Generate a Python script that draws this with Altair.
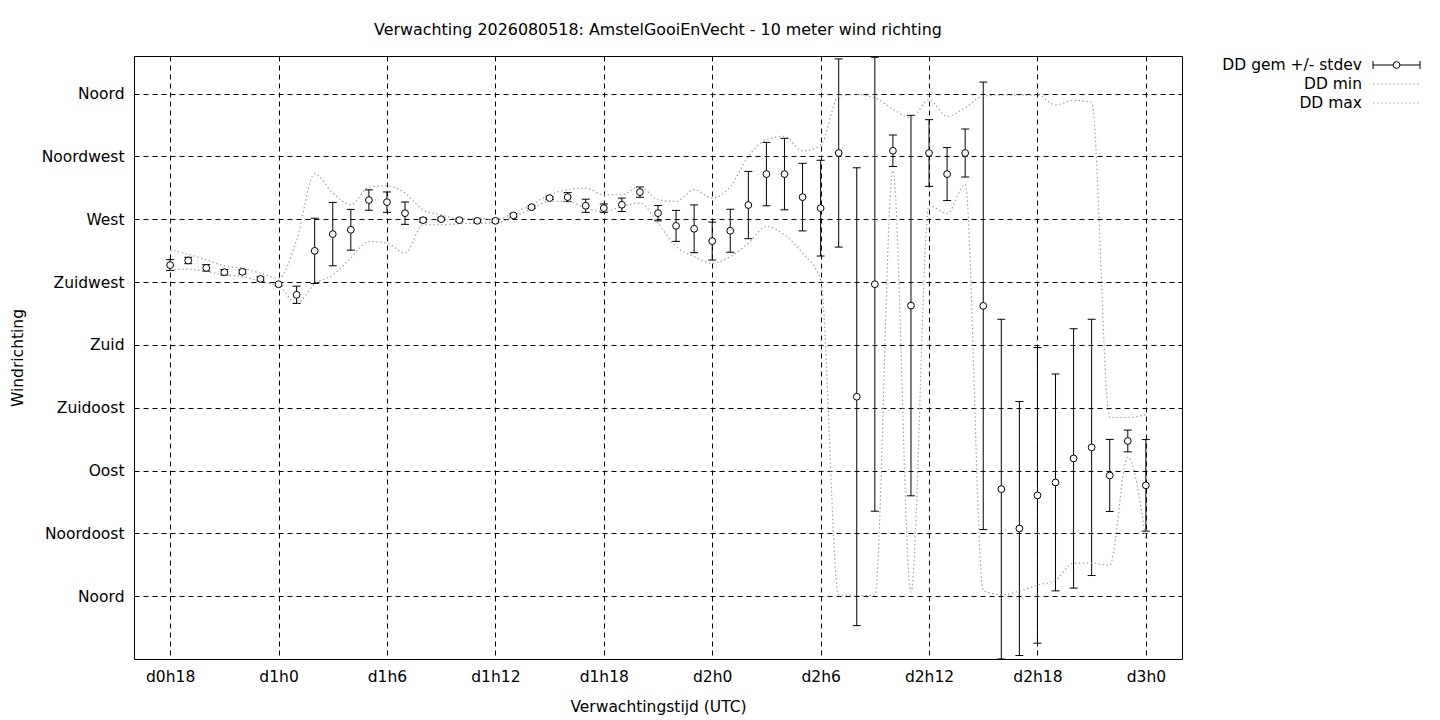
import altair as alt
import pandas as pd

# uren vanaf d0h0, elk uur een waarde
hours = list(range(18, 73))

dd_mean = [237.2, 240.5, 235.2, 232.1, 232.4, 227.3, 223.5, 215.9, 247.4, 259.4,
           262.5, 283.8, 282.3, 274.4, 269.4, 270.1, 269.4, 268.9, 268.9, 272.8,
           278.7, 285.2, 285.9, 279.7, 278.0, 280.4, 289.5, 274.4, 265.3, 263.2,
           254.4, 261.8, 280.2, 302.4, 302.4, 285.9, 278.0, 317.5, 142.9, 223.5,
           319.1, 208.2, 317.5, 302.4, 317.5, 208.0, 76.7, 48.5, 72.2, 81.5,
           98.7, 106.6, 86.5, 111.2, 79.4]

dd_std = [3.9, 2.3, 2.3, 2.0, 1.5, 1.5, 1.2, 6.2, 23.4, 22.7,
          14.6, 7.3, 7.3, 8.0, 1.5, 1.0, 1.0, 1.0, 1.2, 1.2,
          1.0, 1.0, 3.2, 4.7, 3.0, 4.8, 3.7, 5.5, 11.1, 17.1,
          13.6, 15.4, 24.1, 22.7, 25.6, 24.2, 34.3, 67.4, 164.0, 162.6,
          11.3, 136.3, 23.9, 19.0, 17.2, 160.3, 121.7, 91.0, 105.9, 77.7,
          92.9, 91.8, 25.8, 7.8, 32.8]

dd_min = [233.8, 234.3, 232.6, 230.2, 229.0, 225.4, 222.3, 209.9, 223.8, 230.2,
          242.2, 254.1, 252.9, 245.8, 266.1, 266.1, 266.8, 267.3, 267.3, 272.0,
          277.3, 282.8, 282.8, 278.0, 275.6, 279.2, 281.6, 267.3, 250.5, 243.3,
          238.6, 243.3, 252.9, 264.9, 258.9, 245.8, 226.6, 0.7, 0.5, 0.7,
          305.0, 3.0, 280.0, 274.0, 295.0, 4.0, 1.0, 3.6, 7.9, 11.5,
          23.7, 23.7, 22.2, 99.7, 40.0]

dd_max = [248.1, 245.0, 241.0, 236.7, 235.0, 231.4, 227.8, 255.0, 302.6, 288.8,
          280.4, 293.1, 294.0, 288.8, 276.8, 273.2, 270.1, 270.8, 269.6, 274.4,
          280.4, 287.6, 291.2, 292.4, 287.6, 287.6, 293.5, 284.0, 282.8, 291.2,
          285.2, 293.5, 315.1, 327.0, 329.4, 319.0, 323.0, 358.0, 359.3, 357.0,
          349.0, 342.6, 355.7, 343.7, 350.0, 358.3, 359.0, 359.0, 359.0, 352.0,
          355.2, 353.8, 128.0, 128.0, 130.0]

dir_names = ["Noord", "Noordoost", "Oost", "Zuidoost", "Zuid",
             "Zuidwest", "West", "Noordwest", "Noord"]
x_ticks = list(range(18, 73, 6))
legend_labels = ["DD gem +/- stdev", "DD min", "DD max"]

df = pd.DataFrame({"uur": hours, "gem": dd_mean, "std": dd_std,
                   "min": dd_min, "max": dd_max})
df["laag"] = df["gem"] - df["std"]
df["hoog"] = df["gem"] + df["std"]

FONT = "DejaVu Sans"
FS = 15.5
GREY = "#a0a0a0"

x_scale = alt.Scale(domain=[16, 74], nice=False, zero=False)
y_scale = alt.Scale(domain=[-45, 387], nice=False, zero=False)

x_axis = alt.Axis(
    values=x_ticks,
    labelExpr="'d' + floor(datum.value / 24) + 'h' + (datum.value % 24)",
    title="Verwachtingstijd (UTC)",
    grid=True, ticks=False, tickSize=0, domain=False,
    labelPadding=10, titlePadding=15,
)
y_labels = "[" + ",".join("'%s'" % n for n in dir_names) + "]"
y_axis = alt.Axis(
    values=[i * 45 for i in range(len(dir_names))],
    labelExpr=y_labels + "[round(datum.value / 45)]",
    title="Windrichting",
    grid=True, ticks=False, tickSize=0, domain=False,
    labelPadding=10, titlePadding=16,
)


def ychan(field):
    return alt.Y(field, type="quantitative", scale=y_scale, axis=y_axis)


base = alt.Chart(df).encode(x=alt.X("uur:Q", scale=x_scale, axis=x_axis))

min_line = base.mark_line(color=GREY, strokeDash=[1.5, 2.5], strokeWidth=1.2,
                          interpolate="monotone", clip=True).encode(y=ychan("min"))
max_line = base.mark_line(color=GREY, strokeDash=[1.5, 2.5], strokeWidth=1.2,
                          interpolate="monotone", clip=True).encode(y=ychan("max"))

bars = base.mark_rule(color="black", strokeWidth=1, clip=True).encode(
    y=ychan("laag"), y2="hoog:Q")
cap_lo = base.mark_point(shape="M-1,0L1,0", size=64, color="black", strokeWidth=1,
                         filled=False, opacity=1, clip=True).encode(y=ychan("laag"))
cap_hi = base.mark_point(shape="M-1,0L1,0", size=64, color="black", strokeWidth=1,
                         filled=False, opacity=1, clip=True).encode(y=ychan("hoog"))
dots = base.mark_point(shape="circle", size=46, filled=True, fill="white",
                       stroke="black", strokeWidth=1, opacity=1, clip=True).encode(y=ychan("gem"))

# legenda rechtsboven, tekst links van het symbool (gnuplot-stijl)
leg_text_x = 1228
leg_sym_x1, leg_sym_x2 = 1239, 1286
legend = []
for i, lab in enumerate(legend_labels):
    ly = 9 + 19 * i
    ld = pd.DataFrame({"label": [lab]})
    legend.append(alt.Chart(ld).mark_text(align="right", baseline="middle", font=FONT,
                                          fontSize=FS, color="black").encode(
        x=alt.value(leg_text_x), y=alt.value(ly), text="label:N"))
    if i == 0:
        legend.append(alt.Chart(ld).mark_rule(color="black", strokeWidth=1).encode(
            x=alt.value(leg_sym_x1), x2=alt.value(leg_sym_x2), y=alt.value(ly)))
        for cx in (leg_sym_x1, leg_sym_x2):
            legend.append(alt.Chart(ld).mark_rule(color="black", strokeWidth=1).encode(
                x=alt.value(cx), y=alt.value(ly - 4), y2=alt.value(ly + 4)))
        legend.append(alt.Chart(ld).mark_point(shape="circle", size=46, filled=True,
                                               fill="white", stroke="black", strokeWidth=1,
                                               opacity=1).encode(
            x=alt.value((leg_sym_x1 + leg_sym_x2) / 2), y=alt.value(ly)))
    else:
        legend.append(alt.Chart(ld).mark_rule(color=GREY, strokeDash=[1.5, 2.5],
                                              strokeWidth=1.2).encode(
            x=alt.value(leg_sym_x1), x2=alt.value(leg_sym_x2), y=alt.value(ly)))

chart = alt.layer(bars, cap_lo, cap_hi, min_line, max_line, dots, *legend).properties(
    width=1048,
    height=603,
    autosize=alt.AutoSizeParams(type="none"),
    padding={"left": 126, "top": 48, "right": 240, "bottom": 60},
    title=alt.TitleParams(
        "Verwachting 2026080518: AmstelGooiEnVecht - 10 meter wind richting",
        font=FONT, fontSize=15.9, fontWeight="normal", color="black",
        anchor="middle", offset=18,
    ),
).configure_view(
    stroke="black", strokeWidth=1,
).configure_axis(
    labelFont=FONT, labelFontSize=FS, labelColor="black",
    titleFont=FONT, titleFontSize=FS, titleFontWeight="normal", titleColor="black",
    gridColor="black", gridOpacity=1, gridWidth=1, gridDash=[5, 4],
)

chart.save("out.html", embed_options={"renderer": "svg", "actions": False})
